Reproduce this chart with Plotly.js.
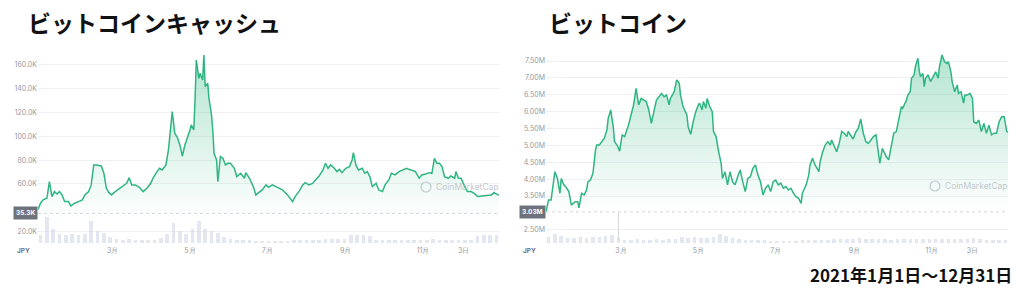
<!DOCTYPE html>
<html>
<head>
<meta charset="utf-8">
<script src="https://cdn.plot.ly/plotly-3.0.1.min.js"></script>
<style>html,body{margin:0;padding:0;background:#fff;}#chart{width:1024px;height:294px;}</style>
</head>
<body>
<div id="chart"></div>
<script>
// ---------- DATA ----------
const bchTitle = 'ビットコインキャッシュ';
const btcTitle = 'ビットコイン';
const periodText = '2021年1月1日～12月31日';

// Bitcoin Cash price (thousand JPY), day offset from 2021-01-01
const bchDay = [0,2,4,7,9,11,13,15,17,19,21,24,26,29,32,35,37,40,42,44,46,50,52,54,56,58,61,65,68,70,72,74,77,80,83,86,89,91,94,96,98,101,103,106,108,110,112,114,116,118,120,121,123,124,125,127,128,130,131,132,134,135,137,138,139,141,142,144,146,148,150,152,155,157,160,163,164,167,170,172,174,177,180,182,185,189,193,197,201,203,206,209,211,214,217,219,222,225,227,229,231,234,236,238,240,243,246,248,249,251,253,256,258,260,262,264,267,269,272,274,277,279,282,285,288,291,293,296,298,301,303,306,309,311,313,315,317,319,321,324,326,329,330,332,334,337,339,342,345,347,350,353,355,358,360,362,364];
const bchPrice = [38.5,43.8,46.6,48.0,62.0,49.4,53.6,51.6,53.6,50.8,45.2,45.2,41.5,43.8,45.2,46.6,50.8,53.6,59.2,76.0,76.0,75.1,69.0,56.4,52.7,50.8,53.6,56.4,59.2,60.6,65.3,59.2,59.2,57.2,53.6,56.4,60.6,65.3,70.4,73.2,71.8,76.0,88.6,120.8,102.6,99.2,92.8,83.5,92.8,98.4,105.4,109.6,105.4,130.6,164.2,148.8,153.0,147.4,168.4,141.8,144.6,132.0,118.0,105.4,85.8,80.2,62.0,83.0,81.6,76.0,77.4,77.4,73.2,66.2,69.0,64.8,69.5,64.8,57.8,50.8,52.2,55.0,59.2,57.2,59.2,57.2,55.0,50.8,45.2,49.4,53.6,59.2,61.1,59.2,60.6,63.4,66.7,71.8,77.4,73.2,76.0,73.2,70.4,72.3,69.5,73.2,74.6,80.2,86.3,76.0,71.8,73.2,69.0,70.4,66.2,57.8,60.6,55.0,53.6,59.2,63.4,69.0,67.6,70.4,71.8,73.2,72.3,71.2,70.4,64.8,67.6,68.4,69.5,69.0,81.6,77.4,77.4,74.6,66.2,64.8,66.7,64.8,70.4,64.8,64.8,57.8,53.6,53.6,51.6,49.4,49.9,50.5,50.8,50.8,52.7,51.6,50.5];

// Bitcoin price (million JPY)
const btcDay = [0,2,4,5,7,9,11,12,14,16,18,20,23,25,26,28,30,32,33,35,37,39,40,42,44,46,48,49,51,53,54,56,58,60,62,63,65,67,69,71,73,75,77,79,81,83,85,87,90,91,93,95,97,98,101,103,105,106,108,111,112,114,116,118,120,121,123,124,126,127,129,131,132,134,136,138,139,141,143,145,147,149,151,153,155,157,159,161,163,165,167,169,171,173,175,177,179,181,183,185,187,189,191,193,195,197,199,201,202,205,207,208,210,212,215,216,218,220,222,224,225,227,229,231,233,235,237,238,240,242,244,246,248,250,252,254,256,258,260,261,263,265,266,268,270,272,274,276,278,280,281,284,285,287,288,290,291,293,294,295,297,298,299,301,303,305,307,309,310,312,314,316,317,319,320,322,324,325,327,329,330,332,334,336,337,339,341,343,345,347,349,351,353,355,357,359,361,363,364];
const btcPrice = [3.03,3.38,3.38,3.63,4.22,4.02,3.58,4.02,3.83,3.75,3.63,3.23,3.33,3.33,3.15,3.58,3.53,3.68,3.92,3.97,4.17,4.86,5.01,5.01,5.11,5.21,5.46,5.80,6.05,5.55,5.11,5.01,4.83,5.31,5.26,5.36,5.60,5.90,6.20,6.69,6.20,6.39,6.34,6.30,6.05,5.65,6.00,6.34,6.49,6.54,6.44,6.49,6.20,6.39,6.59,6.94,6.84,6.49,6.15,5.90,5.55,5.33,5.70,6.00,6.20,6.25,6.05,6.30,6.10,6.39,6.15,6.00,5.41,5.26,4.81,4.47,4.02,4.22,3.83,4.22,3.92,3.83,4.07,4.27,3.92,3.63,4.02,4.07,4.32,4.42,4.12,3.92,3.53,3.73,3.83,3.63,3.92,3.97,3.83,3.88,3.73,3.78,3.68,3.73,3.58,3.48,3.43,3.28,3.58,3.83,4.12,4.42,4.62,4.42,4.22,4.52,4.81,5.01,5.11,5.01,5.16,4.96,4.81,5.06,5.41,5.36,5.26,5.41,5.31,5.19,5.39,5.50,5.78,5.36,5.11,5.06,5.16,5.26,5.31,5.01,4.47,4.91,4.81,4.67,4.57,5.01,5.36,5.41,5.75,6.15,6.10,6.34,6.49,6.59,6.99,7.09,7.33,7.58,7.23,7.04,7.13,6.74,6.99,7.09,6.89,7.04,7.18,6.99,7.33,7.68,7.48,7.43,7.48,7.18,6.89,6.59,6.79,6.54,6.59,6.25,6.49,6.49,6.54,6.39,5.70,5.65,5.75,5.41,5.65,5.36,5.60,5.31,5.36,5.36,5.70,5.85,5.85,5.41,5.39];

// Volume (relative units) in 5-day buckets starting 2021-01-01
const bchVolume = [8,26,14,9,8,9,8,9,22,12,10,6,4,3,4,3,3,3,3,5,9,20,12,9,14,22,14,12,10,6,4,3,3,3,2,2,2,2,2,2,3,3,3,3,3,4,4,4,4,8,8,8,7,3,3,3,3,3,3,3,3,3,4,3,3,3,3,3,3,7,8,8,8];
const btcVolume = [6,9,7,5,5,6,5,6,6,7,8,6,3,3,4,3,3,4,3,4,4,6,5,6,5,5,6,9,7,5,4,3,3,3,3,2,2,2,2,2,3,3,3,3,3,4,4,4,4,5,4,4,4,4,3,4,4,4,4,4,4,4,4,4,4,4,4,5,4,3,3,3,3];

// Axis ticks
const bchTickVals = [20,60,80,100,120,140,160];
const bchTickText = ['20.0K','60.0K','80.0K','100.0K','120.0K','140.0K','160.0K'];
const btcTickVals = [2.5,3.5,4.0,4.5,5.0,5.5,6.0,6.5,7.0,7.5];
const btcTickText = ['2.50M','3.50M','4.00M','4.50M','5.00M','5.50M','6.00M','6.50M','7.00M','7.50M'];
const monthTickDays = [59,120,181,243,304,336];
const monthTickText = ['3月','5月','7月','9月','11月','3日'];
const bchRefPrice = 35.3, bchRefLabel = '35.3K';
const btcRefPrice = 3.03, btcRefLabel = '3.03M';

// ---------- HELPERS ----------
function toDate(d){ const t = new Date(Date.UTC(2021,0,1) + d*86400000); return t.toISOString().slice(0,10); }
const bucketDates = bchVolume.map((_,i)=>toDate(i*5+2.5));
const H = 294, W = 1024;
const py = v => 1 - v/H, px = v => v/W;

const green = '#2fb581';
const tickFont = {family:'Inter, Roboto, sans-serif', size:7, color:'#959aa3'};

function priceTrace(days, vals, xa, ya, gStart, gStop){
  return {x: days.map(toDate), y: vals, xaxis: xa, yaxis: ya, type:'scatter', mode:'lines',
    line:{color:green, width:1.5}, fill:'tozeroy',
    fillgradient:{type:'vertical', start:gStart, stop:gStop,
      colorscale:[[0,'rgba(47,181,129,0)'],[1,'rgba(47,181,129,0.36)']]},
    hoverinfo:'skip', showlegend:false};
}
function volTrace(vals, xa, ya){
  return {x: bucketDates, y: vals, xaxis: xa, yaxis: ya, type:'bar',
    marker:{color:'rgba(196,201,224,0.45)'}, width: 5*86400000*0.55,
    hoverinfo:'skip', showlegend:false};
}

const data = [
  priceTrace(bchDay, bchPrice, 'x', 'y', 30, 168),
  priceTrace(btcDay, btcPrice, 'x2', 'y2', 3.0, 7.7),
  volTrace(bchVolume, 'x', 'y3'),
  volTrace(btcVolume, 'x2', 'y4')
];

const yDom = [py(245), py(45)];
const xCommon = {type:'date', range:['2021-01-01','2021-12-31'], showgrid:false, zeroline:false, showline:false,
  ticks:'', tickfont:tickFont, fixedrange:true};
const yCommon = {showgrid:true, gridcolor:'#f0f0f2', gridwidth:1, zeroline:false, showline:false, ticks:'',
  tickfont:tickFont, domain:yDom, fixedrange:true};

const layout = {
  width: W, height: H, margin:{l:0,r:0,t:0,b:0},
  paper_bgcolor:'#fff', plot_bgcolor:'#fff', showlegend:false, bargap:0,
  xaxis: Object.assign({}, xCommon, {domain:[px(38), px(499)], anchor:'y',
    tickvals: monthTickDays.map(toDate), ticktext: monthTickText}),
  xaxis2: Object.assign({}, xCommon, {domain:[px(546), px(1008)], anchor:'y2',
    tickvals: monthTickDays.map(toDate), ticktext: monthTickText}),
  yaxis: Object.assign({}, yCommon, {anchor:'x', range:[8.7,176.8], tickvals:bchTickVals, ticktext:bchTickText}),
  yaxis2: Object.assign({}, yCommon, {anchor:'x2', range:[2.048,7.974], tickvals:btcTickVals, ticktext:btcTickText}),
  yaxis3: {overlaying:'y', anchor:'x', range:[-2,198], visible:false, fixedrange:true},
  yaxis4: {overlaying:'y2', anchor:'x2', range:[-2,198], visible:false, fixedrange:true},
  shapes: [
    {type:'line', xref:'x domain', yref:'y', x0:0, x1:1, y0:bchRefPrice, y1:bchRefPrice,
     line:{color:'#d2d4da', width:1, dash:'dot'}},
    {type:'line', xref:'x2 domain', yref:'y2', x0:0, x1:1, y0:btcRefPrice, y1:btcRefPrice,
     line:{color:'#d2d4da', width:1, dash:'dot'}},
    {type:'line', xref:'x2', yref:'y2', x0:toDate(57), x1:toDate(57), y0:2.2, y1:btcRefPrice,
     line:{color:'#d6d8de', width:1}},
    {type:'circle', xref:'paper', yref:'paper', x0:px(421), x1:px(431), y0:py(192), y1:py(182),
     line:{color:'rgba(175,180,190,0.7)', width:1.2}},
    {type:'circle', xref:'paper', yref:'paper', x0:px(930), x1:px(940), y0:py(191), y1:py(181),
     line:{color:'rgba(175,180,190,0.7)', width:1.2}}
  ],
  annotations: [
    {text:'<b>'+bchTitle+'</b>', xref:'paper', yref:'paper', x:px(26), y:py(22), xanchor:'left', yanchor:'middle',
     showarrow:false, font:{family:'Noto Sans CJK JP', size:23, color:'#111'}},
    {text:'<b>'+btcTitle+'</b>', xref:'paper', yref:'paper', x:px(547), y:py(22), xanchor:'left', yanchor:'middle',
     showarrow:false, font:{family:'Noto Sans CJK JP', size:23, color:'#111'}},
    {text:'<b>'+periodText+'</b>', xref:'paper', yref:'paper', x:px(1014), y:py(274), xanchor:'right', yanchor:'middle',
     showarrow:false, font:{family:'Noto Sans CJK JP', size:17, color:'#111'}},
    {text:'<b>JPY</b>', xref:'paper', yref:'paper', x:px(23), y:py(251), xanchor:'center', yanchor:'middle',
     showarrow:false, font:{family:'Inter, sans-serif', size:6.5, color:'#6f747e'}},
    {text:'<b>JPY</b>', xref:'paper', yref:'paper', x:px(529), y:py(251), xanchor:'center', yanchor:'middle',
     showarrow:false, font:{family:'Inter, sans-serif', size:6.5, color:'#6f747e'}},
    {text:'<b>'+bchRefLabel+'</b>', xref:'paper', yref:'y', x:px(25), y:bchRefPrice, xanchor:'center', yanchor:'middle',
     showarrow:false, bgcolor:'#6e727c', borderpad:2, font:{family:'Inter, sans-serif', size:6.5, color:'#fff'}},
    {text:'<b>'+btcRefLabel+'</b>', xref:'paper', yref:'y2', x:px(532), y:btcRefPrice, xanchor:'center', yanchor:'middle',
     showarrow:false, bgcolor:'#6e727c', borderpad:2, font:{family:'Inter, sans-serif', size:6.5, color:'#fff'}},
    {text:'CoinMarketCap', xref:'paper', yref:'paper', x:px(434), y:py(187), xanchor:'left', yanchor:'middle',
     showarrow:false, font:{family:'Inter, sans-serif', size:8.5, color:'rgba(175,180,190,0.75)'}},
    {text:'CoinMarketCap', xref:'paper', yref:'paper', x:px(943), y:py(186), xanchor:'left', yanchor:'middle',
     showarrow:false, font:{family:'Inter, sans-serif', size:8.5, color:'rgba(175,180,190,0.75)'}}
  ]
};

Plotly.newPlot('chart', data, layout, {staticPlot:true, displayModeBar:false});
</script>
</body>
</html>
